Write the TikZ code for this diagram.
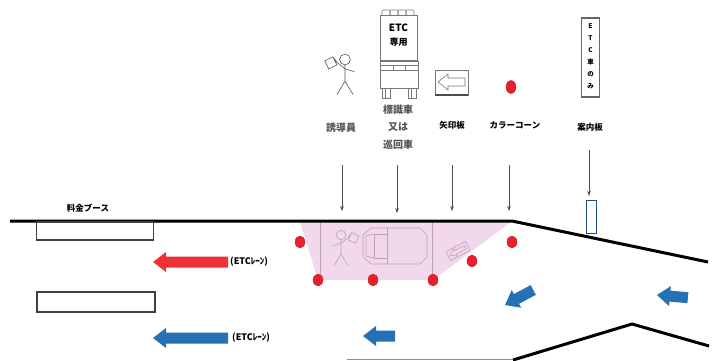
\documentclass[tikz,border=0pt]{standalone}
\usepackage{fontspec}
\newfontfamily\jp{Noto Sans CJK JP}
\usetikzlibrary{arrows.meta}

\definecolor{conered}{RGB}{232,32,42}
\definecolor{arrred}{RGB}{238,50,55}
\definecolor{arrblue}{RGB}{38,112,182}
\definecolor{zonepink}{RGB}{238,208,230}
\definecolor{zoneline}{RGB}{190,160,190}
\definecolor{icongray}{RGB}{120,120,120}
\definecolor{labelgray}{RGB}{85,85,85}

\tikzset{
  road/.style={line width=3pt, black, line join=round},
  booth/.style={draw=black!75, line width=1.2pt, fill=white},
  lbl/.style={font=\jp\bfseries\fontsize{8.5}{10}\selectfont, text=black, inner sep=0pt},
  graylbl/.style={font=\jp\bfseries\fontsize{10}{12}\selectfont, text=labelgray, inner sep=0pt},
  pointer/.style={draw=black!70, line width=0.6pt, -{Stealth[length=5pt,width=3.5pt]}},
  cone/.style={fill=conered, draw=conered!80!black, line width=0.3pt},
  lanelbl/.style={font=\jp\bfseries\fontsize{9}{10}\selectfont, inner sep=0pt, anchor=west},
  % block arrow, tip at the origin, tail at distance #1 to the right
  barr/.pic={\fill (0,0) -- (13,-10) -- (13,-5.5) -- (#1,-5.5) -- (#1,5.5) -- (13,5.5) -- (13,10) -- cycle;},
  % stick figure holding a flag
  walker/.pic={
    \draw[line width=0.6pt] (0,-10) circle (4);
    \draw[line width=0.6pt] (0,-6) -- (0,6) (0,6) -- (-6,16) (0,6) -- (6,16)
      (0,-3) -- (-6,-8) (0,-3) -- (7,-1);
    \draw[line width=0.6pt] (-6,-8) -- (-9,-12) (-9,-12) -- (-15,-9) -- (-12,-3) -- (-6,-6) -- cycle;
  },
}

\begin{document}
\begin{tikzpicture}[x=1pt, y=-1pt]
\useasboundingbox (0,0) rectangle (716,361);
\fill[white] (0,0) rectangle (716,361);

% ---------- work zone ----------
\fill[zonepink, opacity=0.8] (300,222) -- (318,280) -- (433,280) -- (511,222) -- cycle;
\draw[zoneline, line width=0.5pt] (320,222) -- (320,280) (432,222) -- (432,280);

% flagman inside the zone
\pic[zoneline, xscale=-1.2, yscale=1.2] at (341,247) {walker};

% sign truck seen from above
\begin{scope}[zoneline, line width=0.7pt]
  \draw (371,228) -- (420,228) -- (427,235) -- (427,257) -- (420,264) -- (371,264) -- (363,257) -- (363,235) -- cycle;
  \draw (387,228) -- (387,264);
  \draw (374,234) rectangle (387,258);
  \draw (366,236) -- (374,234) (366,256) -- (374,258) (366,236) -- (366,256);
\end{scope}

% arrow board lying in the zone
\begin{scope}[zoneline, shift={(458,251)}, rotate=28, line width=0.6pt]
  \draw (-11,-5) rectangle (11,5);
  \draw (-9,0) -- (-3,-4) -- (-3,-2) -- (8,-2) -- (8,2) -- (-3,2) -- (-3,4) -- cycle;
\end{scope}

% ---------- road edges ----------
\draw[road] (10,221) -- (512,221) -- (708,262);
\draw[road] (513,360) -- (632,324) -- (709,346);
\draw[black!45, line width=1pt] (347,359.5) -- (513,359.5);

% toll booths
\node[booth, minimum width=117pt, minimum height=18pt, inner sep=0pt] (booth1) at (95,231) {};
\node[booth, minimum width=118pt, minimum height=20pt, inner sep=0pt] (booth2) at (96,302) {};
\node[lbl] (boothlbl) at (88,208) {料金ブース};

% lane arrows
\pic[fill=arrred] at (153,262) {barr=75};
\node[lanelbl] (lane1) at (230,262) {(ETCﾚｰﾝ)};
\pic[fill=arrblue] at (153,338) {barr=75};
\node[lanelbl] (lane2) at (232,338) {(ETCﾚｰﾝ)};
\pic[fill=arrblue] at (363,336) {barr=32};
\pic[fill=arrblue, rotate=28] at (505,305) {barr=32};
\pic[fill=arrblue, rotate=-5] at (657,295) {barr=31};

% cones around the zone
\foreach \n/\p in {c1/{(300,242)}, c2/{(318,280)}, c3/{(373,280)}, c4/{(433,280)}, c5/{(472,261)}, c6/{(512,242)}}
  \path[cone] \p ellipse (5 and 6);

% ---------- legend icons ----------
% flagman
\pic[black!65, scale=1.35] at (345,73) {walker};
\node[graylbl] (flagman) at (341,128) {誘導員};

% sign truck, front view
\begin{scope}[icongray, line width=0.6pt]
  \foreach \x in {382,390,398,406}
    \draw[rounded corners=1pt] (\x,15) -- (\x,10) -- (\x+8,10) -- (\x+8,15);
  \draw (380,15) rectangle (417,60);
  \draw (380,61) rectangle (418,88);
  \draw (380,65) -- (418,65) (380,70) -- (418,70);
  \draw (393,65) rectangle (405,70);
  \draw (382,88) rectangle (390,98) (408,88) rectangle (416,98);
  \draw (385,88) -- (385,98) (411,88) -- (411,98);
\end{scope}
\node[font=\jp\bfseries\fontsize{10}{11}\selectfont, inner sep=0pt] (trucksign1) at (398.5,28) {ETC};
\node[font=\jp\bfseries\fontsize{9}{10}\selectfont, inner sep=0pt] (trucksign2) at (398.5,42) {専用};
\node[graylbl, align=center, font=\jp\bfseries\fontsize{10}{17.5}\selectfont] (truck) at (398,127) {標識車\\又は\\巡回車};

% arrow board
\begin{scope}[icongray, line width=0.6pt]
  \draw (435,70) rectangle (468,95);
  \draw[line width=1.4pt, black!70] (435,95) -- (468,95);
  \draw (438,82) -- (448,74) -- (448,78) -- (465,78) -- (465,86) -- (448,86) -- (448,90) -- cycle;
\end{scope}
\node[lbl] (board) at (452,125) {矢印板};

% cone
\path[cone] (511,87) ellipse (5 and 6.5);
\node[lbl] (cone) at (515,125) {カラーコーン};

% guide sign
\node[draw=black!60, line width=1.3pt, minimum width=18pt, minimum height=79pt, inner sep=0pt] (guide) at (590.5,57.5) {};
\foreach \ch [count=\i] in {E,T,C,車,の,み}
  \node[font=\jp\bfseries\fontsize{6.5}{7}\selectfont, inner sep=0pt] (g\i) at (590.5,14+12*\i) {\ch};
\node[lbl] (guidelbl) at (590,127) {案内板};

% ---------- pointers to the road ----------
\coordinate (p1a) at (342,165); \coordinate (p1b) at (342,211);
\coordinate (p2a) at (397,165); \coordinate (p2b) at (397,213);
\coordinate (p3a) at (452,165); \coordinate (p3b) at (452,211);
\coordinate (p4a) at (509,165); \coordinate (p4b) at (509,211);
\coordinate (p5a) at (589,150); \coordinate (p5b) at (589,196);
\draw[pointer] (p1a) -- (p1b);
\draw[pointer] (p2a) -- (p2b);
\draw[pointer] (p3a) -- (p3b);
\draw[pointer] (p4a) -- (p4b);
\draw[pointer] (p5a) -- (p5b);

% sign post on the road edge
\node[draw=arrblue!70!black, line width=0.7pt, fill=white, minimum width=10pt, minimum height=33pt, inner sep=0pt] (post) at (591,216.5) {};
\end{tikzpicture}
\end{document}
